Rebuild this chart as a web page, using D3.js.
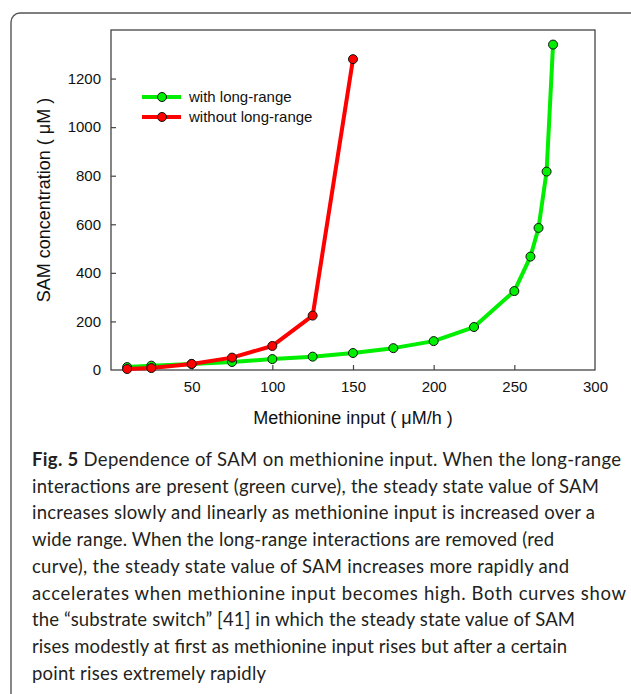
<!DOCTYPE html>
<html>
<head>
<meta charset="utf-8">
<script src="https://cdn.jsdelivr.net/npm/d3@7"></script>
<style>
  body { margin: 0; background: #fff; }
  svg { display: block; }
  .tick text { font-family: "Liberation Sans", Arial, sans-serif; font-size: 15px; fill: #111; }
  .axis-title { font-family: "Liberation Sans", Arial, sans-serif; font-size: 18px; fill: #111; }
  .legend text { font-family: "Liberation Sans", Arial, sans-serif; font-size: 15px; fill: #111; }
  .caption { font-family: Lato, sans-serif; font-size: 18.5px; fill: #231f20; }
</style>
</head>
<body>
<svg id="chart" width="631" height="694"></svg>
<script>
// methionine input (uM/h) and SAM (uM)
const withX = [10, 25, 50, 75, 100, 125, 150, 175, 200, 225, 250, 260, 265, 270, 274];
const withY = [12, 18, 25, 33, 45, 55, 70, 90, 119, 177, 325, 467, 585, 817, 1340];
const withoutX = [10, 25, 50, 75, 100, 125, 150];
const withoutY = [4, 8, 25, 51, 99, 224, 1280];

const xTicks = [50, 100, 150, 200, 250, 300];
const yTicks = [0, 200, 400, 600, 800, 1000, 1200];

const seriesNames = ['with long-range', 'without long-range'];
const seriesColors = ['#00ee00', '#ff0000'];

const captionLines = [
    ['Fig. 5', ' Dependence of SAM on methionine input. When the long-range'],
    ['', 'interactions are present (green curve), the steady state value of SAM'],
    ['', 'increases slowly and linearly as methionine input is increased over a'],
    ['', 'wide range. When the long-range interactions are removed (red'],
    ['', 'curve), the steady state value of SAM increases more rapidly and'],
    ['', 'accelerates when methionine input becomes high. Both curves show'],
    ['', 'the \u201Csubstrate switch\u201D [41] in which the steady state value of SAM'],
    ['', 'rises modestly at first as methionine input rises but after a certain'],
    ['', 'point rises extremely rapidly']
];
// right edge of each caption line in the figure
const captionEnds = [621, 599, 595, 554, 569, 626, 575, 567, 266];

const svg = d3.select('#chart');

// outer rounded frame (runs off the right and bottom)
svg.append('rect')
    .attr('x', 11).attr('y', 13)
    .attr('width', 700).attr('height', 800)
    .attr('rx', 9)
    .attr('fill', 'none')
    .attr('stroke', '#555')
    .attr('stroke-width', 1.4);

const plotLeft = 111, plotTop = 30, plotRight = 595, plotBottom = 370;

const x = d3.scaleLinear().domain([0, 300]).range([plotLeft, plotRight]);
const y = d3.scaleLinear().domain([0, 1400]).range([plotBottom, plotTop]);

// plot box
svg.append('rect')
    .attr('x', plotLeft).attr('y', plotTop)
    .attr('width', plotRight - plotLeft).attr('height', plotBottom - plotTop)
    .attr('fill', 'none')
    .attr('stroke', '#444')
    .attr('stroke-width', 1.3);

const xAxis = svg.append('g')
    .attr('transform', `translate(0, ${plotBottom})`)
    .call(d3.axisBottom(x).tickValues(xTicks).tickFormat(d3.format('d'))
        .tickSizeInner(-5).tickSizeOuter(0).tickPadding(11));

const yAxis = svg.append('g')
    .attr('transform', `translate(${plotLeft}, 0)`)
    .call(d3.axisLeft(y).tickValues(yTicks).tickFormat(d3.format('d'))
        .tickSizeInner(-5).tickSizeOuter(0).tickPadding(10));

[xAxis, yAxis].forEach(a => {
    a.select('.domain').remove();
    a.selectAll('.tick line').attr('stroke', '#444').attr('stroke-width', 1.2);
    a.selectAll('.tick text').attr('font-family', null).attr('font-size', null);
});
// no tick marks drawn on the corners
xAxis.selectAll('.tick').filter(d => d === 300).select('line').remove();
yAxis.selectAll('.tick').filter(d => d === 0).select('line').remove();

svg.append('text')
    .attr('class', 'axis-title')
    .attr('x', (plotLeft + plotRight) / 2)
    .attr('y', 424)
    .attr('text-anchor', 'middle')
    .text('Methionine input ( \u03BCM/h )');

svg.append('text')
    .attr('class', 'axis-title')
    .attr('transform', `translate(50, ${(plotTop + plotBottom) / 2}) rotate(-90)`)
    .attr('text-anchor', 'middle')
    .text('SAM concentration ( \u03BCM )');

const line = d3.line()
    .x(d => x(d[0]))
    .y(d => y(d[1]));

const series = [
    d3.zip(withX, withY),
    d3.zip(withoutX, withoutY)
];

series.forEach((pts, i) => {
    svg.append('path')
        .datum(pts)
        .attr('d', line)
        .attr('fill', 'none')
        .attr('stroke', seriesColors[i])
        .attr('stroke-width', 4)
        .attr('stroke-linejoin', 'round');

    svg.append('g')
        .selectAll('circle')
        .data(pts)
        .enter()
        .append('circle')
        .attr('cx', d => x(d[0]))
        .attr('cy', d => y(d[1]))
        .attr('r', 4.5)
        .attr('fill', seriesColors[i])
        .attr('stroke', '#111')
        .attr('stroke-width', 1);
});

// legend
const legend = svg.append('g').attr('class', 'legend');
seriesNames.forEach((name, i) => {
    const ly = 97 + i * 20;
    legend.append('line')
        .attr('x1', 142).attr('x2', 181)
        .attr('y1', ly).attr('y2', ly)
        .attr('stroke', seriesColors[i])
        .attr('stroke-width', 4);
    legend.append('circle')
        .attr('cx', 162).attr('cy', ly)
        .attr('r', 4.5)
        .attr('fill', seriesColors[i])
        .attr('stroke', '#111');
    legend.append('text')
        .attr('x', 189).attr('y', ly)
        .attr('dy', '0.35em')
        .text(name);
});

// caption
const capX = 32, capY0 = 466, capStep = 26.7;
captionLines.forEach((parts, i) => {
    const t = svg.append('text')
        .attr('class', 'caption')
        .attr('x', capX)
        .attr('y', capY0 + i * capStep);
    if (parts[0]) {
        t.append('tspan').attr('font-weight', 700).text(parts[0]);
    }
    t.append('tspan').text(parts[1]);
    t.attr('textLength', captionEnds[i] - capX).attr('lengthAdjust', 'spacing');
});
</script>
</body>
</html>
